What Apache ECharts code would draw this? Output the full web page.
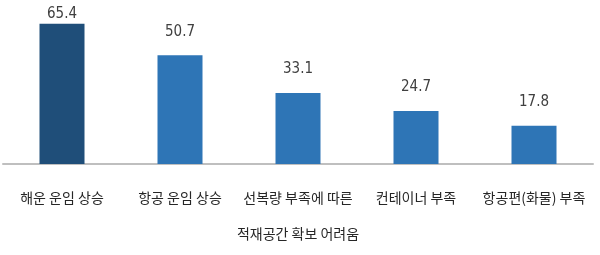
<!DOCTYPE html>
<html><head><meta charset="utf-8">
<script src="https://cdn.jsdelivr.net/npm/echarts@6/dist/echarts.min.js"></script>
<style>html,body{margin:0;padding:0;background:#fff}#c{width:600px;height:255px}</style>
</head><body><div id="c"></div>
<script>
const categories = ['해운 운임 상승', '항공 운임 상승', '선복량 부족에 따른\n적재공간 확보 어려움', '컨테이너 부족', '항공편(화물) 부족'];
const values = [65.4, 50.7, 33.1, 24.7, 17.8];
const highlightIndex = 0;

const chart = echarts.init(document.getElementById('c'));
chart.setOption({
  animation: false,
  grid: { left: 3, right: 7, top: 14, bottom: 91, containLabel: false },
  xAxis: {
    type: 'category', data: categories,
    axisLine: { lineStyle: { color: '#BFBFBF', width: 2 } },
    axisTick: { show: false },
    axisLabel: { interval: 0, color: '#262626', fontSize: 14, lineHeight: 36, margin: 16,
      fontFamily: '"Noto Sans CJK KR", sans-serif' }
  },
  yAxis: { type: 'value', min: 0, max: 70, show: false, splitLine: { show: false } },
  series: [{
    type: 'bar', barWidth: 45,
    data: values.map((v, i) => i === highlightIndex
      ? { value: v, itemStyle: { color: '#1F4E79' }, label: { distance: 2 } }
      : v),
    itemStyle: { color: '#2E75B6' },
    label: { show: true, position: 'top', distance: 16, color: '#404040', fontSize: 15,
      fontFamily: '"DejaVu Sans Condensed", "Liberation Sans Narrow", sans-serif' }
  }]
});
</script></body></html>
